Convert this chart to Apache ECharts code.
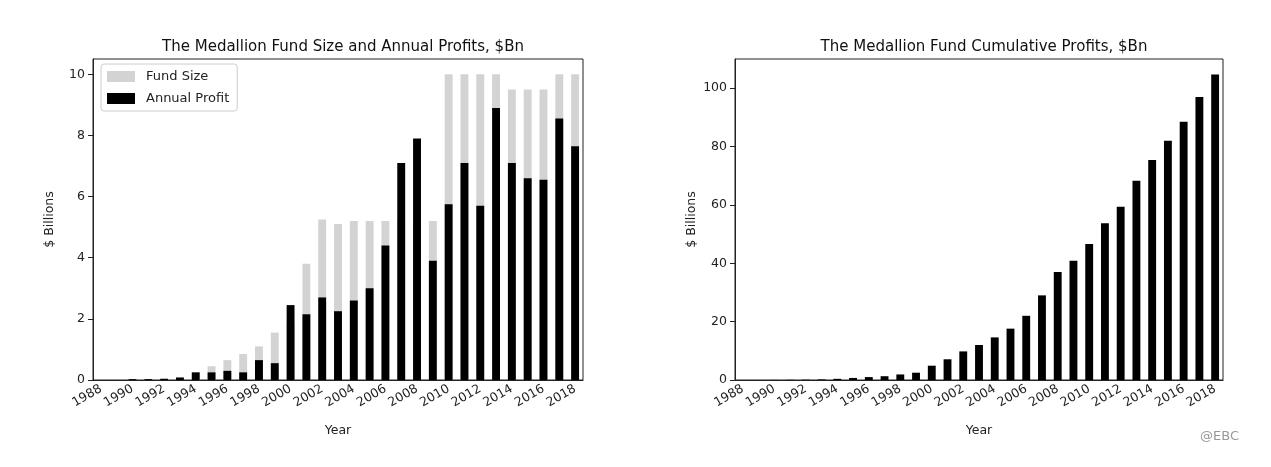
<!DOCTYPE html>
<html><head><meta charset="utf-8">
<script src="https://cdn.jsdelivr.net/npm/echarts@6/dist/echarts.min.js"></script>
<style>html,body{margin:0;background:#fff}#c{width:1271px;height:467px}</style>
</head><body><div id="c"></div>
<script>
const years = [];
for (let y = 1988; y <= 2018; y++) years.push(String(y));
const fundSize = [0,0,0.03,0.03,0.04,0.1,0.25,0.45,0.65,0.85,1.1,1.55,1.9,3.8,5.25,5.1,5.2,5.2,5.2,5.2,5.2,5.2,10,10,10,10,9.5,9.5,9.5,10,10];
const annualProfit = [0,0,0.03,0.03,0.04,0.08,0.25,0.25,0.3,0.25,0.65,0.55,2.45,2.15,2.7,2.25,2.6,3.0,4.4,7.1,7.9,3.9,5.75,7.1,5.7,8.9,7.1,6.6,6.55,8.55,7.65];
const cumulative = [0,0,0.03,0.06,0.1,0.2,0.4,0.7,1.0,1.3,1.9,2.5,4.9,7.1,9.8,12.0,14.6,17.6,22,29,37,40.9,46.6,53.7,59.4,68.3,75.4,82,88.5,97,104.7];
const font = 'DejaVu Sans';
const ax = {color:'#222', fontFamily:font, fontSize:12.5};
function xAxis(gi){return {type:'category', gridIndex:gi, data:years, name:'Year', nameLocation:'middle', nameGap:44,
  nameTextStyle:ax, axisLine:{lineStyle:{color:'#222'}}, axisTick:{alignWithLabel:true,interval:0,lineStyle:{color:'#222'}},
  axisLabel:Object.assign({interval:1, rotate:30, margin:8}, ax)};}
function yAxis(gi,max,intv){return {type:'value', gridIndex:gi, min:0, max:max, interval:intv, name:'$ Billions', nameLocation:'middle', nameGap:37,
  nameTextStyle:ax, splitLine:{show:false}, axisLine:{show:true,lineStyle:{color:'#222'}}, axisTick:{show:true,lineStyle:{color:'#222'}},
  axisLabel:Object.assign({showMaxLabel:false, formatter:v=>v>max-0.01?'':v}, ax)};}
const chart = echarts.init(document.getElementById('c'));
chart.setOption({
  animation:false,
  title:[{text:'The Medallion Fund Size and Annual Profits, $Bn', left:338, top:35, textAlign:'center', textStyle:{fontFamily:font,fontSize:15,fontWeight:'normal',color:'#111'}},
         {text:'The Medallion Fund Cumulative Profits, $Bn', left:979, top:35, textAlign:'center', textStyle:{fontFamily:font,fontSize:15,fontWeight:'normal',color:'#111'}}],
  legend:{left:101, top:64, orient:'vertical', icon:'rect', itemWidth:28, itemHeight:11, itemGap:9, padding:[6,8,6,6], borderColor:'#ccc', borderWidth:1, borderRadius:3,
    textStyle:{fontFamily:font,fontSize:13,color:'#222', padding:[0,0,0,6]}, data:['Fund Size','Annual Profit']},
  grid:[{left:93, top:59, width:490, height:321, show:true, borderColor:'#222', borderWidth:1, backgroundColor:'transparent'},
        {left:735, top:59, width:488, height:321, show:true, borderColor:'#222', borderWidth:1, backgroundColor:'transparent'}],
  xAxis:[xAxis(0), xAxis(1)],
  yAxis:[yAxis(0,10.5,2), yAxis(1,110,20)],
  series:[
    {name:'Fund Size', type:'bar', xAxisIndex:0, yAxisIndex:0, data:fundSize, barWidth:'50%', itemStyle:{color:'#d3d3d3'}},
    {name:'Annual Profit', type:'bar', xAxisIndex:0, yAxisIndex:0, data:annualProfit, barWidth:'50%', barGap:'-100%', itemStyle:{color:'#000'}},
    {name:'Cumulative', type:'bar', xAxisIndex:1, yAxisIndex:1, data:cumulative, barWidth:'50%', itemStyle:{color:'#000'}}
  ],
  graphic:[{type:'text', left:1200, top:430, style:{text:'@EBC', fontFamily:font, fontSize:13, fill:'#999'}}]
});
</script></body></html>
